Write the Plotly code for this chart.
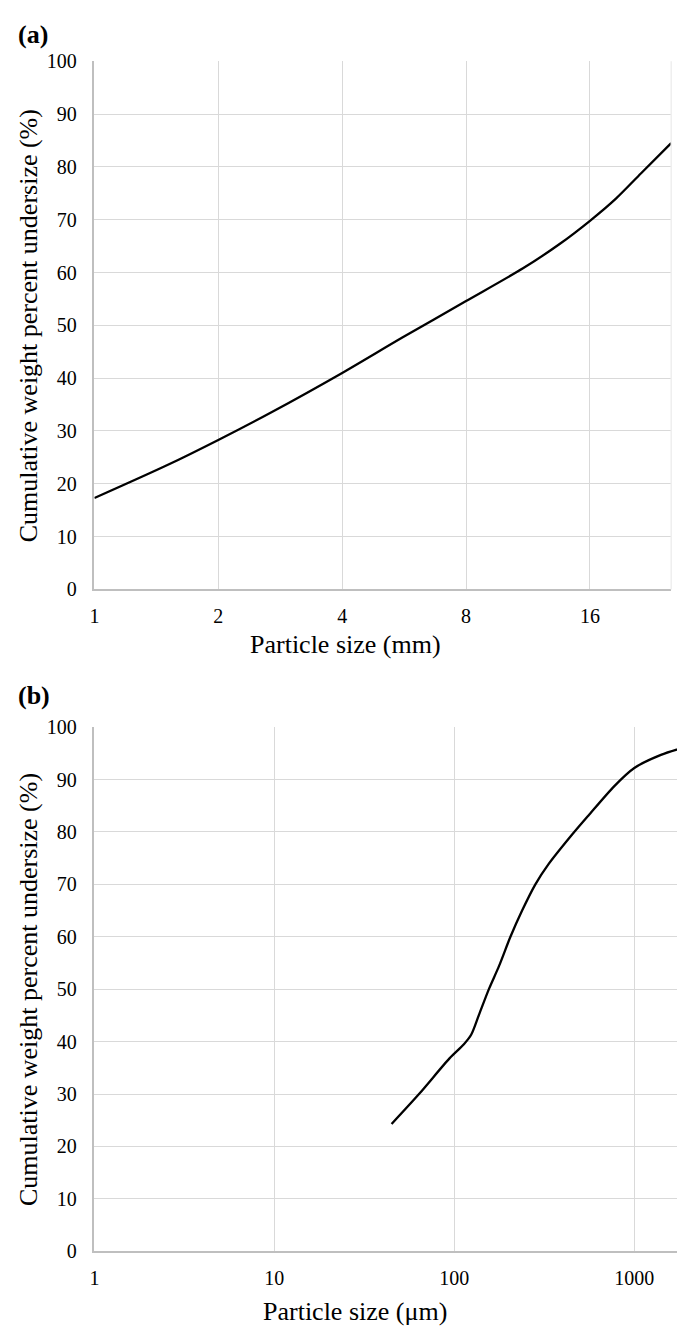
import math
import plotly.graph_objects as go

# (a) coarse fraction, particle size in mm
size_mm = [1, 1.5, 2, 2.7, 4, 5.6, 8, 11, 13.5, 16, 18.5, 21.3, 25.2]
undersize_a = [17.3, 23.5, 28.3, 33.6, 41.0, 47.7, 54.6, 60.8, 65.4, 69.8, 74.0, 78.8, 84.5]
ticks_a = [1, 2, 4, 8, 16]

# (b) fine fraction, particle size in µm
size_um = [44.8, 64, 94, 113, 124, 137, 156, 177, 205, 238, 282, 333, 449, 555, 777, 1000, 1406, 2014]
undersize_b = [24.3, 30.1, 36.8, 39.5, 41.3, 45.1, 50.1, 54.4, 60.0, 65.0, 70.0, 73.8, 79.4, 83.1, 88.8, 92.2, 94.7, 96.4]
ticks_b = [1, 10, 100, 1000]

y_ticks = list(range(0, 101, 10))

FONT = "Liberation Serif, Times New Roman, serif"
GRID = "#d9d9d9"
AXIS = "#bfbfbf"
W, H = 685, 1332
TICK = 20
TITLE = 26

fig = go.Figure()
fig.add_trace(go.Scatter(x=size_mm, y=undersize_a, mode="lines",
                         line=dict(color="black", width=2.3, shape="spline", smoothing=0.8),
                         xaxis="x", yaxis="y", showlegend=False))
fig.add_trace(go.Scatter(x=size_um, y=undersize_b, mode="lines",
                         line=dict(color="black", width=2.3, shape="spline", smoothing=0.8),
                         xaxis="x2", yaxis="y2", showlegend=False))

xd_a = [82 / W, 663 / W]
xd_b = [82 / W, 681 / W]
yd_a = [(H - 580) / H, (H - 43) / H]
yd_b = [(H - 1253) / H, (H - 720) / H]

common_y = dict(range=[0, 100], tickvals=y_ticks, showgrid=True, gridcolor=GRID, gridwidth=1.3,
                showline=True, linecolor=AXIS, linewidth=1.5, zeroline=False, ticks="",
                ticklabelstandoff=12, tickfont=dict(family=FONT, size=TICK, color="black"))
common_x = dict(type="log", showgrid=True, gridcolor=GRID, gridwidth=1.3,
                showline=True, linecolor=AXIS, linewidth=1.5, zeroline=False, ticks="",
                ticklabelstandoff=8, tickfont=dict(family=FONT, size=TICK, color="black"))

fig.update_layout(
    width=W, height=H,
    margin=dict(l=0, r=0, t=0, b=0),
    paper_bgcolor="white", plot_bgcolor="white",
    xaxis=dict(common_x, domain=xd_a, range=[0, math.log10(max(size_mm))],
               tickvals=ticks_a, ticktext=[str(t) for t in ticks_a], anchor="y"),
    yaxis=dict(common_y, domain=yd_a, anchor="x"),
    xaxis2=dict(common_x, domain=xd_b, range=[0, math.log10(max(size_um))],
                tickvals=ticks_b, ticktext=[str(t) for t in ticks_b], anchor="y2"),
    yaxis2=dict(common_y, domain=yd_b, anchor="x2"),
)

# faint right edge of the upper plot area
fig.add_shape(type="line", xref="paper", yref="paper", x0=xd_a[1], x1=xd_a[1], y0=yd_a[0], y1=yd_a[1],
              line=dict(color="#ececec", width=1.3))

ann = [
    dict(text="<b>(a)</b>", x=3 / W, y=1 - 16 / H, xanchor="left", yanchor="middle", font=dict(size=26)),
    dict(text="<b>(b)</b>", x=3 / W, y=1 - 688 / H, xanchor="left", yanchor="middle", font=dict(size=26)),
    dict(text="Particle size (mm)", x=335 / W, y=1 - 636 / H, xanchor="center", yanchor="middle", font=dict(size=TITLE)),
    dict(text="Particle size (μm)", x=345 / W, y=1 - 1314 / H, xanchor="center", yanchor="middle", font=dict(size=TITLE)),
    dict(text="Cumulative weight percent undersize (%)", x=15 / W, y=(yd_a[0] + yd_a[1]) / 2, textangle=-90,
         xanchor="center", yanchor="middle", font=dict(size=TITLE)),
    dict(text="Cumulative weight percent undersize (%)", x=15 / W, y=(yd_b[0] + yd_b[1]) / 2, textangle=-90,
         xanchor="center", yanchor="middle", font=dict(size=TITLE)),
]
for a in ann:
    a.update(xref="paper", yref="paper", showarrow=False)
    a["font"] = dict(family=FONT, color="black", **a["font"])
fig.update_layout(annotations=ann)

fig.write_html("out.html")
